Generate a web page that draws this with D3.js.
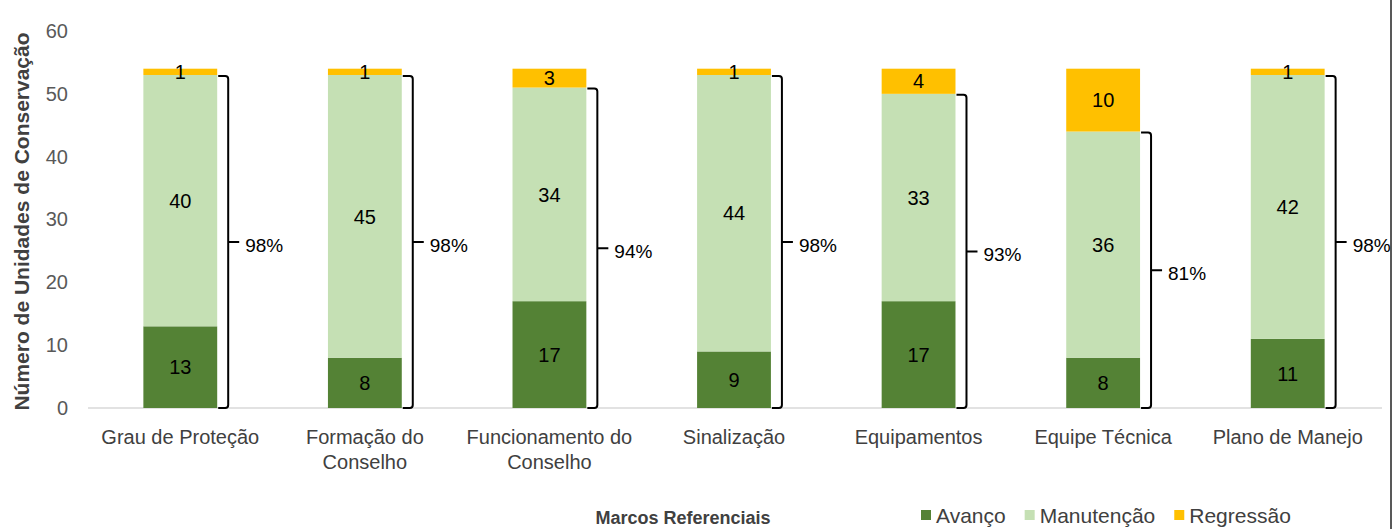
<!DOCTYPE html>
<html><head><meta charset="utf-8">
<script src="https://cdn.jsdelivr.net/npm/d3@7"></script>
<style>body{margin:0;background:#fff}svg{display:block}text{font-family:"Liberation Sans",Arial,sans-serif}</style>
</head><body><svg id="c" width="1392" height="529"></svg>
<script>
const categories = ["Grau de Proteção","Formação do Conselho","Funcionamento do Conselho","Sinalização","Equipamentos","Equipe Técnica","Plano de Manejo"];
const avanco = [13, 8, 17, 9, 17, 8, 11];
const manutencao = [40, 45, 34, 44, 33, 36, 42];
const regressao = [1, 1, 3, 1, 4, 10, 1];
const percentLabels = ["98%","98%","94%","98%","93%","81%","98%"];
const seriesNames = ["Avanço","Manutenção","Regressão"];
const seriesColors = ["#548235","#C5E0B4","#FFC000"];
const yTicks = [0,10,20,30,40,50,60];

const svg = d3.select("#c");
const x = d3.scaleBand().domain(categories).range([88, 1380]).paddingInner(0.6).paddingOuter(0.3);
const y = d3.scaleLinear().domain([0, 60]).range([408, 31]);

const rows = categories.map((c, i) => ({cat: c, [seriesNames[0]]: avanco[i], [seriesNames[1]]: manutencao[i], [seriesNames[2]]: regressao[i]}));
const stack = d3.stack().keys(seriesNames)(rows);

// y axis
const ya = svg.append("g").attr("transform", "translate(88,0)")
  .call(d3.axisLeft(y).tickValues(yTicks).tickSize(0).tickPadding(20));
ya.select(".domain").remove();
ya.selectAll("text").attr("font-size", 20).attr("fill", "#595959").attr("font-family", "Liberation Sans, Arial");

// x axis line
svg.append("line").attr("x1", 88).attr("x2", 1382).attr("y1", y(0)).attr("y2", y(0)).attr("stroke", "#d9d9d9").attr("stroke-width", 1.5);

// bars
stack.forEach((s, si) => {
  svg.append("g").selectAll("rect").data(s).join("rect")
    .attr("x", d => x(d.data.cat)).attr("width", x.bandwidth())
    .attr("y", d => y(d[1])).attr("height", d => y(d[0]) - y(d[1]))
    .attr("fill", seriesColors[si]);
});
stack.forEach((s, si) => {
  svg.append("g").selectAll("text").data(s).join("text")
    .attr("x", d => x(d.data.cat) + x.bandwidth() / 2)
    .attr("y", d => (y(d[0]) + y(d[1])) / 2)
    .attr("dy", "0.36em").attr("text-anchor", "middle")
    .attr("font-size", 20).attr("fill", "#000")
    .text(d => d[1] - d[0]);
});

// braces
categories.forEach((c, i) => {
  const x0 = x(c) + x.bandwidth() + 1;
  const xv = x0 + 10;
  const top = y(avanco[i] + manutencao[i]) + 1;
  const bot = y(0);
  const mid = (top + bot) / 2;
  const tip = xv + 11;
  const p = `M${x0},${top} H${xv-3} Q${xv},${top} ${xv},${top+3} V${bot-3} Q${xv},${bot} ${xv-3},${bot} H${x0} M${xv},${mid} H${tip}`;
  svg.append("path").attr("d", p).attr("fill", "none").attr("stroke", "#000").attr("stroke-width", 2);
  svg.append("text").attr("x", tip + 6).attr("y", mid + 3).attr("dy", "0.36em")
    .attr("font-size", 19).attr("fill", "#000").text(percentLabels[i]);
});

// category labels with wrapping
categories.forEach(c => {
  const t = svg.append("text").attr("text-anchor", "middle").attr("font-size", 20).attr("fill", "#404040");
  const cx = x(c) + x.bandwidth() / 2;
  const words = c.split(" ");
  let lines = [], cur = [];
  const probe = t.append("tspan");
  words.forEach(w => {
    const trial = cur.concat([w]).join(" ");
    probe.text(trial);
    if (probe.node().getComputedTextLength() > 180 && cur.length) { lines.push(cur.join(" ")); cur = [w]; }
    else cur.push(w);
  });
  lines.push(cur.join(" "));
  probe.remove();
  lines.forEach((l, li) => t.append("tspan").attr("x", cx).attr("y", 444 + li * 25).text(l));
});

// y title
svg.append("text").attr("transform", "rotate(-90)").attr("x", -(y(0) + y(60)) / 2 - 2).attr("y", 29)
  .attr("text-anchor", "middle").attr("font-size", 21).attr("font-weight", "bold").attr("fill", "#404040")
  .text("Número de Unidades de Conservação");

// x title
svg.append("text").attr("x", 683).attr("y", 524).attr("text-anchor", "middle")
  .attr("font-size", 18).attr("font-weight", "bold").attr("fill", "#404040").text("Marcos Referenciais");

// legend
const lg = svg.append("g");
let lx = 921;
seriesNames.forEach((n, i) => {
  lg.append("rect").attr("x", lx).attr("y", 510).attr("width", 10).attr("height", 10).attr("fill", seriesColors[i]);
  const t = lg.append("text").attr("x", lx + 15).attr("y", 523).attr("font-size", 21).attr("fill", "#404040").text(n);
  lx += 15 + t.node().getComputedTextLength() + 19;
});

// right border
svg.append("line").attr("x1", 1391).attr("x2", 1391).attr("y1", 0).attr("y2", 529).attr("stroke", "#222").attr("stroke-width", 1.5);
</script></body></html>
